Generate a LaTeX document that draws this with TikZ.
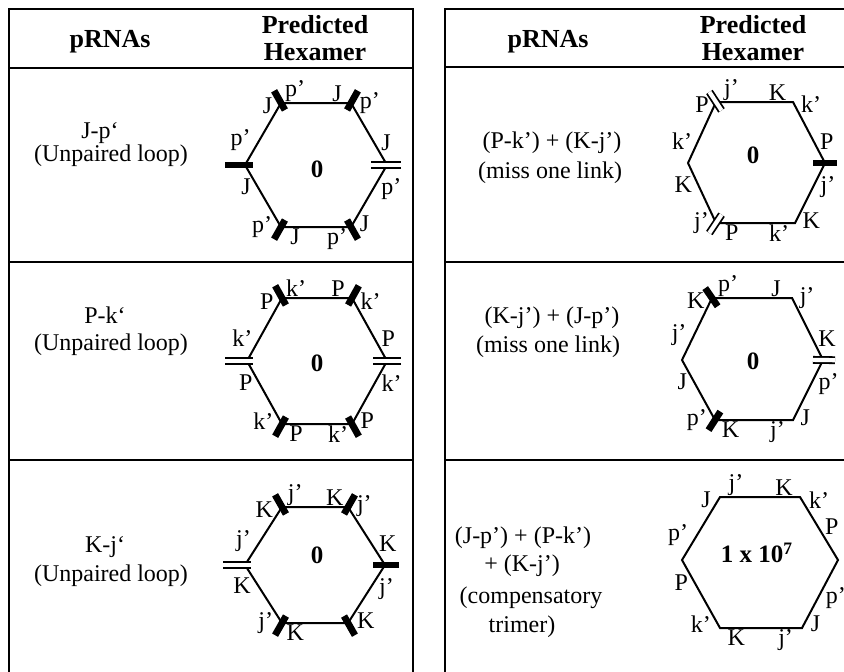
\documentclass[tikz,border=0pt]{standalone}
\usepackage{fontspec}
\setmainfont{Liberation Serif}
\usetikzlibrary{calc}
\begin{document}
\begin{tikzpicture}[x=0.5pt,y=-0.5pt,
  frame/.style={line width=1.2pt},
  hexline/.style={line width=1pt},
  bar/.style={line width=3.4pt},
  dbar/.style={line width=0.9pt,double distance=2.1pt},
  lab/.style={font=\fontsize{12}{12}\selectfont,inner sep=0.3pt,auto},
  txt/.style={font=\fontsize{12}{14}\selectfont},
  head/.style={font=\fontsize{13}{13.5}\selectfont\bfseries,align=center},
  num/.style={font=\fontsize{12.5}{14}\selectfont\bfseries}]
  \useasboundingbox (0,0) rectangle (844,671);
  \clip (0,0) rectangle (844,671);
  \draw[frame] (9,690) -- (9,9) -- (413,9) -- (413,690);
  \draw[frame] (9,68) -- (413,68);
  \draw[frame] (9,262) -- (413,262);
  \draw[frame] (9,460) -- (413,460);
  \draw[frame] (445,690) -- (445,9) -- (870,9);
  \draw[frame] (445,67) -- (870,67);
  \draw[frame] (445,262) -- (870,262);
  \draw[frame] (445,460) -- (870,460);
  \node[head] (h1) at (110,42) {pRNAs};
  \node[head] (h2) at (315,38) {Predicted\\Hexamer};
  \node[head] (h3) at (548,42) {pRNAs};
  \node[head] (h4) at (753,38) {Predicted\\Hexamer};
  \node[txt] (t1a) at (100,133) {J-p`};
  \node[txt] (t1b) at (111,156) {(Unpaired loop)};
  \node[txt] (t2a) at (105,315) {P-k`};
  \node[txt] (t2b) at (111,345) {(Unpaired loop)};
  \node[txt] (t3a) at (105,547) {K-j`};
  \node[txt] (t3b) at (111,576) {(Unpaired loop)};
  \node[txt] (t4a) at (552,143) {(P-k') + (K-j')};
  \node[txt] (t4b) at (550,173) {(miss one link)};
  \node[txt] (t5a) at (552,318) {(K-j') + (J-p')};
  \node[txt] (t5b) at (548,347) {(miss one link)};
  \node[txt] (t6a) at (523,538) {(J-p') + (P-k')};
  \node[txt] (t6b) at (522,566) {+ (K-j')};
  \node[txt] (t6c) at (531,598) {(compensatory};
  \node[txt] (t6d) at (522,627) {trimer)};
  \coordinate (ac) at (316,165);
  \coordinate (a1) at (281,103); \coordinate (a2) at (351,103); \coordinate (a3) at (387,165);
  \coordinate (a4) at (351,227); \coordinate (a5) at (281,227); \coordinate (a6) at (245,165);
  \draw[hexline] (a1) -- node[lab,pos=.2] (a1r) {p'} node[lab,pos=.8] (a2l) {J} (a2)
    -- node[lab,pos=.2] (a2r) {p'} node[lab,pos=.8] (a3l) {J} (a3)
    -- node[lab,pos=.2] (a3r) {p'} node[lab,pos=.8] (a4l) {J} (a4)
    -- node[lab,pos=.2] (a4r) {p'} node[lab,pos=.8] (a5l) {J} (a5)
    -- node[lab,pos=.2] (a5r) {p'} node[lab,pos=.8] (a6l) {J} (a6)
    -- node[lab,pos=.2] (a6r) {p'} node[lab,pos=.8] (a1l) {J} cycle;
  \node[num] (a0) at (317,169) {0};
  \draw[bar] ($(a1)!-7pt!(ac)$) -- ($(a1)!4pt!(ac)$);
  \draw[bar] ($(a2)!-7pt!(ac)$) -- ($(a2)!4pt!(ac)$);
  \draw[dbar] ($(a3)!-7pt!(ac)$) -- ($(a3)!8pt!(ac)$);
  \draw[bar] ($(a4)!-7pt!(ac)$) -- ($(a4)!4pt!(ac)$);
  \draw[bar] ($(a5)!-7pt!(ac)$) -- ($(a5)!4pt!(ac)$);
  \draw[bar] ($(a6)!-10pt!(ac)$) -- ($(a6)!4pt!(ac)$);
  \coordinate (bc) at (317,361);
  \coordinate (b1) at (282,298); \coordinate (b2) at (352,298); \coordinate (b3) at (387,361);
  \coordinate (b4) at (352,424); \coordinate (b5) at (282,424); \coordinate (b6) at (247,361);
  \draw[hexline] (b1) -- node[lab,pos=.2] (b1r) {k'} node[lab,pos=.8] (b2l) {P} (b2)
    -- node[lab,pos=.2] (b2r) {k'} node[lab,pos=.8] (b3l) {P} (b3)
    -- node[lab,pos=.2] (b3r) {k'} node[lab,pos=.8] (b4l) {P} (b4)
    -- node[lab,pos=.2] (b4r) {k'} node[lab,pos=.8] (b5l) {P} (b5)
    -- node[lab,pos=.2] (b5r) {k'} node[lab,pos=.8] (b6l) {P} (b6)
    -- node[lab,pos=.2] (b6r) {k'} node[lab,pos=.8] (b1l) {P} cycle;
  \node[num] (b0) at (317,363) {0};
  \draw[bar] ($(b1)!-7pt!(bc)$) -- ($(b1)!4pt!(bc)$);
  \draw[bar] ($(b2)!-7pt!(bc)$) -- ($(b2)!4pt!(bc)$);
  \draw[dbar] ($(b3)!-7pt!(bc)$) -- ($(b3)!7pt!(bc)$);
  \draw[bar] ($(b4)!-7pt!(bc)$) -- ($(b4)!4pt!(bc)$);
  \draw[bar] ($(b5)!-7pt!(bc)$) -- ($(b5)!4pt!(bc)$);
  \draw[dbar] ($(b6)!-11pt!(bc)$) -- ($(b6)!3pt!(bc)$);
  \coordinate (cc) at (315,565);
  \coordinate (c1) at (282,507); \coordinate (c2) at (348,507); \coordinate (c3) at (385,565);
  \coordinate (c4) at (348,623); \coordinate (c5) at (282,623); \coordinate (c6) at (245,565);
  \draw[hexline] (c1) -- node[lab,pos=.2] (c1r) {j'} node[lab,pos=.8] (c2l) {K} (c2)
    -- node[lab,pos=.2] (c2r) {j'} node[lab,pos=.8] (c3l) {K} (c3)
    -- node[lab,pos=.2] (c3r) {j'} node[lab,pos=.8] (c4l) {K} (c4)
    -- node[lab,pos=.8] (c5l) {K} (c5)
    -- node[lab,pos=.2] (c5r) {j'} node[lab,pos=.8] (c6l) {K} (c6)
    -- node[lab,pos=.2] (c6r) {j'} node[lab,pos=.8] (c1l) {K} cycle;
  \node[num] (c0) at (317,555) {0};
  \draw[bar] ($(c1)!-7pt!(cc)$) -- ($(c1)!4pt!(cc)$);
  \draw[bar] ($(c2)!-7pt!(cc)$) -- ($(c2)!4pt!(cc)$);
  \draw[bar] ($(c3)!-7pt!(cc)$) -- ($(c3)!6pt!(cc)$);
  \draw[bar] ($(c4)!-7pt!(cc)$) -- ($(c4)!4pt!(cc)$);
  \draw[bar] ($(c5)!-7pt!(cc)$) -- ($(c5)!4pt!(cc)$);
  \draw[dbar] ($(c6)!-11pt!(cc)$) -- ($(c6)!3pt!(cc)$);
  \coordinate (dc) at (756,163);
  \coordinate (d1) at (716,102); \coordinate (d2) at (793,102); \coordinate (d3) at (825,163);
  \coordinate (d4) at (795,223); \coordinate (d5) at (716,223); \coordinate (d6) at (688,163);
  \draw[hexline] (d1) -- node[lab,pos=.2] (d1r) {j'} node[lab,pos=.8] (d2l) {K} (d2)
    -- node[lab,pos=.2] (d2r) {k'} node[lab,pos=.8] (d3l) {P} (d3)
    -- node[lab,pos=.2] (d3r) {j'} node[lab,pos=.8] (d4l) {K} (d4)
    -- node[lab,pos=.2] (d4r) {k'} node[lab,pos=.8] (d5l) {P} (d5)
    -- node[lab,pos=.2] (d5r) {j'} node[lab,pos=.8] (d6l) {K} (d6)
    -- node[lab,pos=.2] (d6r) {k'} node[lab,pos=.8] (d1l) {P} cycle;
  \node[num] (d0) at (753,155) {0};
  \draw[dbar] ($(d1)!-6pt!(dc)$) -- ($(d1)!5pt!(dc)$);
  \draw[bar] ($(d3)!-6pt!(dc)$) -- ($(d3)!6pt!(dc)$);
  \draw[dbar] ($(d5)!-6pt!(dc)$) -- ($(d5)!5pt!(dc)$);
  \coordinate (ec) at (754,359);
  \coordinate (e1) at (712,298); \coordinate (e2) at (792,298); \coordinate (e3) at (823,360);
  \coordinate (e4) at (793,420); \coordinate (e5) at (715,420); \coordinate (e6) at (682,360);
  \draw[hexline] (e1) -- node[lab,pos=.2] (e1r) {p'} node[lab,pos=.8] (e2l) {J} (e2)
    -- node[lab,pos=.2] (e2r) {j'} node[lab,pos=.8] (e3l) {K} (e3)
    -- node[lab,pos=.2] (e3r) {p'} node[lab,pos=.8] (e4l) {J} (e4)
    -- node[lab,pos=.2] (e4r) {j'} node[lab,pos=.8] (e5l) {K} (e5)
    -- node[lab,pos=.2] (e5r) {p'} node[lab,pos=.8] (e6l) {J} (e6)
    -- node[lab,pos=.2] (e6r) {j'} node[lab,pos=.8] (e1l) {K} cycle;
  \node[num] (e0) at (753,361) {0};
  \draw[bar] ($(e1)!-6pt!(ec)$) -- ($(e1)!5pt!(ec)$);
  \draw[dbar] ($(e3)!-6pt!(ec)$) -- ($(e3)!5pt!(ec)$);
  \draw[bar] ($(e5)!-6pt!(ec)$) -- ($(e5)!5pt!(ec)$);
  \coordinate (fc) at (760,562);
  \coordinate (f1) at (720,497); \coordinate (f2) at (800,497); \coordinate (f3) at (838,560);
  \coordinate (f4) at (802,628); \coordinate (f5) at (720,628); \coordinate (f6) at (682,560);
  \draw[hexline] (f1) -- node[lab,pos=.2] (f1r) {j'} node[lab,pos=.8] (f2l) {K} (f2)
    -- node[lab,pos=.2] (f2r) {k'} node[lab,pos=.62] (f3l) {P} (f3)
    -- node[lab,pos=.38] (f3r) {p'} node[lab,pos=.8] (f4l) {J} (f4)
    -- node[lab,pos=.2] (f4r) {j'} node[lab,pos=.8] (f5l) {K} (f5)
    -- node[lab,pos=.2] (f5r) {k'} node[lab,pos=.8] (f6l) {P} (f6)
    -- node[lab,pos=.2] (f6r) {p'} node[lab,pos=.8] (f1l) {J} cycle;
  \node[num] (f0) at (757,553) {1 x 10$^{\mathbf{7}}$};
\end{tikzpicture}
\end{document}
